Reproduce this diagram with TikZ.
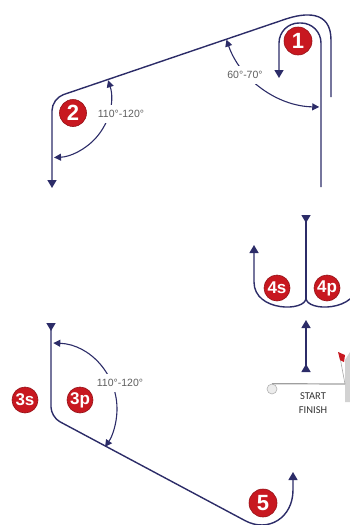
\documentclass[tikz,border=0pt]{standalone}
\usepackage{fontspec}
\setmainfont{Liberation Sans}
\newfontfamily\lblfont{Carlito}
\usetikzlibrary{arrows.meta,positioning}
\definecolor{navy}{RGB}{44,44,104}
\definecolor{buoyred}{RGB}{200,24,32}
\definecolor{degtext}{RGB}{95,95,95}
\tikzstyle{leg}=[
	draw=navy,
	line width=1.4pt]
\tikzstyle{sweep}=[
	draw=navy,
	line width=1.1pt,
	>={Triangle[length=7pt,width=7pt]}]
\tikzstyle{deg}=[
	text=degtext,
	fill=white,
	inner xsep=1pt,
	inner ysep=5pt,
	font=\fontsize{10.5}{10.5}\selectfont]
\tikzstyle{buoy}=[
	circle,
	fill=buoyred,
	draw=buoyred!75!black,
	line width=.6pt,
	text=white,
	inner sep=0,
	minimum size=28,
	font=\bfseries\fontsize{22}{22}\selectfont]
\tikzstyle{buoytwo}=[
	buoy,
	minimum size=26,
	font=\bfseries\fontsize{17}{17}\selectfont]
\tikzstyle{startpin}=[
	circle,
	draw=gray!60,
	fill=gray!15,
	line width=.6pt,
	inner sep=0,
	minimum size=10]
\tikzstyle{startlbl}=[
	text=black!80,
	inner sep=1pt,
	font=\lblfont\fontsize{10.5}{10.5}\selectfont]

\begin{document}
\begin{tikzpicture}[x=1pt,y=-1pt,>={Triangle[length=8pt,width=9pt]}]
	\useasboundingbox (0,0) rectangle (350,525);
	\clip (0,0) rectangle (350,525);
	% top: legs 1 and 2
	\begin{scope}
		\coordinate (topr) at (331,97);
		\coordinate (crest) at (285,19.3);
		\coordinate (cnr2) at (52,98.5);
		\coordinate (end2) at (52,188);
		\draw[leg] (topr) -- (331,40) .. controls (331,10) and (305,12.5) .. (crest);
		\draw[leg,->,rounded corners=12] (crest) -- (cnr2) -- (end2);
		\draw[leg,->,rounded corners=20] (321,187) -- (321,23) -- (279,23) -- (279,78);
		\draw[sweep,<->] ([shift={(321,7)}]161:100) arc[start angle=161,end angle=91,radius=100];
		\node[deg] (deg1) at (245,75) {60°-70°};
		\draw[sweep,<->] ([shift={(cnr2)}]-18:59) arc[start angle=-18,end angle=88,radius=59];
		\node[deg] (deg2) at (121,114) {110°-120°};
		\node[buoy] (b1) at (298,41) {1};
		\node[buoy,minimum size=27] (b2) at (73,113) {2};
	\end{scope}
	% middle: gate 4s / 4p and start line
	\begin{scope}
		\coordinate (gate) at (306,298);
		\draw[leg,{Triangle[reversed,length=8pt,width=9pt]}-] (306,215) -- (gate);
		\draw[leg,->] (gate) .. controls (306,312) and (254,312) .. (254,282) -- (254,245);
		\draw[leg] (gate) .. controls (306,312) and (358,312) .. (358,282) -- (358,245);
		\draw[leg,{Triangle[reversed,length=8pt,width=9pt]}->] (306,372) -- (306,320);
		\node[buoytwo] (b4s) at (277,288) {4s};
		\node[buoytwo] (b4p) at (327,288) {4p};
		\fill[gray!35] (345,360) -- (350,352) -- (350,402) -- (345,402) -- cycle;
		\coordinate (pole) at (345,384);
		\draw[gray!70,line width=.6pt] (339,352) -- (pole);
		\fill[buoyred] (338,352) -- (345,355) -- (344,362) -- (340,360) -- cycle;
		\node[startpin] (spin) at (272,389) {};
		\draw[gray!75,line width=1.2pt] (spin.north) -- (pole);
		\node[startlbl] (start) at (313,396) {START};
		\node[startlbl,anchor=north] (finish) at ([yshift=-5pt]start.south) {FINISH};
	\end{scope}
	% bottom: legs 3 and 5
	\begin{scope}
		\coordinate (cnr3) at (51,417);
		\coordinate (low5) at (245,520.6);
		\draw[leg,{Triangle[reversed,length=8pt,width=9pt]}-,rounded corners=10] (51,323) -- (cnr3) -- (low5);
		\draw[leg,->] (low5) .. controls (268,533) and (293,518) .. (293,490) -- (293,472);
		\draw[sweep,<->] ([shift={(51,409)}]-88:66) arc[start angle=-88,end angle=35,radius=66];
		\node[deg] (deg3) at (120,383) {110°-120°};
		\node[buoytwo] (b3s) at (25,400) {3s};
		\node[buoytwo] (b3p) at (80,400) {3p};
		\node[buoy] (b5) at (263,503) {5};
	\end{scope}
\end{tikzpicture}
\end{document}
